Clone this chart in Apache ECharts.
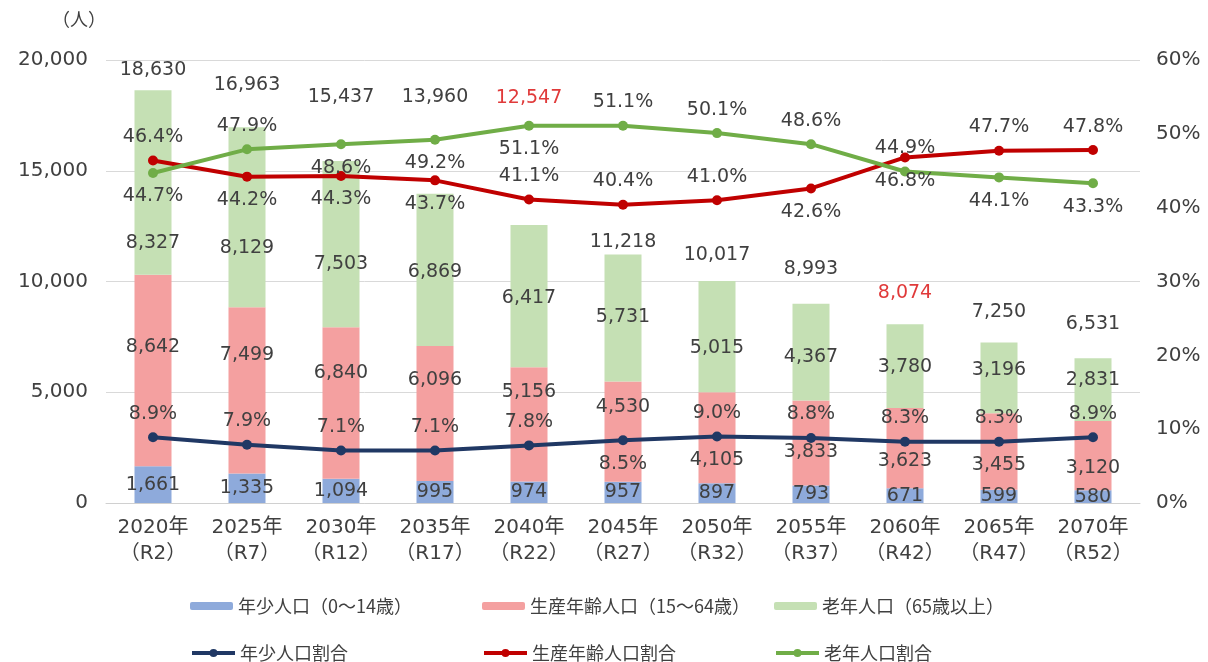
<!DOCTYPE html>
<html>
<head>
<meta charset="utf-8">
<script src="https://cdn.jsdelivr.net/npm/echarts@6/dist/echarts.min.js"></script>
<style>
html,body{margin:0;padding:0;background:#fff;}
#c{width:1208px;height:662px;}
</style>
</head>
<body>
<div id="c"></div>
<script>
// ---- data ----
const categories = ['2020年\n（R2）','2025年\n（R7）','2030年\n（R12）','2035年\n（R17）','2040年\n（R22）','2045年\n（R27）','2050年\n（R32）','2055年\n（R37）','2060年\n（R42）','2065年\n（R47）','2070年\n（R52）'];
const youngPop   = [1661,1335,1094,995,974,957,897,793,671,599,580];
const workingPop = [8642,7499,6840,6096,5156,4530,4105,3833,3623,3455,3120];
const elderlyPop = [8327,8129,7503,6869,6417,5731,5015,4367,3780,3196,2831];
const totalPop   = [18630,16963,15437,13960,12547,11218,10017,8993,8074,7250,6531];
const youngRate   = [8.9,7.9,7.1,7.1,7.8,8.5,9.0,8.8,8.3,8.3,8.9];
const workingRate = [46.4,44.2,44.3,43.7,41.1,40.4,41.0,42.6,46.8,47.7,47.8];
const elderlyRate = [44.7,47.9,48.6,49.2,51.1,51.1,50.1,48.6,44.9,44.1,43.3];
const leftTicks = [0,5000,10000,15000,20000];
const rightTicks = [0,10,20,30,40,50,60];

// ---- label layout (styling, not data) ----
const youngLabelPos   = ['top','top','top','top','top','bottom','top','top','top','top','top'];
const workingLabelPos = ['top','bottom','bottom','bottom','top','top','top','bottom','bottom','top','top'];
const elderlyLabelPos = ['bottom','top','bottom','bottom','bottom','top','top','top','top','bottom','bottom'];
const totalLabelDy    = [-6,-28,-50,-82,-113,2,-12,-20,-17,-16,-20];
const workingLabelDy  = [-23,-35,-30,-33,-32,-25,22,9,13,14,12];
const elderlyLabelDy  = [60,31,20,2,2,-1,11,5,1,-8,-10];
const highlightTotal  = [false,false,false,false,true,false,false,false,true,false,false];

const TXT = '#404040';
const NUMFONT = '"DejaVu Sans","Noto Sans CJK JP",sans-serif';
const JPFONT = '"Noto Sans CJK JP","Noto Sans",sans-serif';
const fmtNum = v => Number(v).toLocaleString('en-US');

const chart = echarts.init(document.getElementById('c'), null, {renderer:'canvas'});

function barSeries(name, data, color, dy) {
  return {
    name, type:'bar', stack:'pop', barWidth:37, yAxisIndex:0,
    itemStyle:{color},
    data: data.map((v,i)=>({value:v, label:{offset:[0, dy ? dy[i] : 0]}})),
    label:{show:true, position:'inside', color:TXT, fontFamily:NUMFONT, fontSize:19,
      formatter:p=>fmtNum(p.value)},
    z:2
  };
}
function lineSeries(name, data, color, pos) {
  return {
    name, type:'line', yAxisIndex:1, symbol:'circle', symbolSize:10,
    lineStyle:{color, width:4}, itemStyle:{color},
    data: data.map((v,i)=>({value:v, label:{position:pos[i]}})),
    label:{show:true, color:TXT, fontFamily:NUMFONT, fontSize:19, distance:9,
      formatter:p=>p.value.toFixed(1)+'%'},
    z:5
  };
}

const legendBase = {
  itemGap:4, padding:5, textStyle:{color:TXT, fontFamily:JPFONT, fontSize:18}
};
const barIcon = {itemWidth:43, itemHeight:8};
const lineIcon = {itemWidth:43, itemHeight:10, lineStyle:{width:4}};

const option = {
  backgroundColor:'#fff',
  animation:false,
  grid:{left:106, right:68, top:60, bottom:159},
  graphic:[{type:'text', left:52, top:10,
    style:{text:'（人）', fill:TXT, font:'18px "Noto Sans CJK JP"'}}],
  legend:[
    Object.assign({data:['年少人口（0～14歳）'], left:185, top:592}, barIcon, legendBase),
    Object.assign({data:['生産年齢人口（15～64歳）'], left:477, top:592}, barIcon, legendBase),
    Object.assign({data:['老年人口（65歳以上）'], left:769, top:592}, barIcon, legendBase),
    Object.assign({data:['年少人口割合'], left:185, top:639}, lineIcon, legendBase),
    Object.assign({data:['生産年齢人口割合'], left:477, top:639}, lineIcon, legendBase),
    Object.assign({data:['老年人口割合'], left:769, top:639}, lineIcon, legendBase)
  ],
  xAxis:{
    type:'category', data:categories,
    axisLine:{show:true, lineStyle:{color:'#d0d0d0'}},
    axisTick:{show:false},
    axisLabel:{color:TXT, fontFamily:NUMFONT, fontSize:20, lineHeight:26, margin:12, interval:0}
  },
  yAxis:[
    {type:'value', min:leftTicks[0], max:leftTicks[leftTicks.length-1], interval:leftTicks[1]-leftTicks[0],
     axisLine:{show:false}, axisTick:{show:false},
     splitLine:{lineStyle:{color:'#d9d9d9'}},
     axisLabel:{color:TXT, fontFamily:NUMFONT, fontSize:20, margin:18, formatter:v=>fmtNum(v)}},
    {type:'value', min:rightTicks[0], max:rightTicks[rightTicks.length-1], interval:rightTicks[1]-rightTicks[0],
     axisLine:{show:false}, axisTick:{show:false}, splitLine:{show:false},
     axisLabel:{color:TXT, fontFamily:NUMFONT, fontSize:20, margin:16, formatter:v=>v+'%'}}
  ],
  series:[
    barSeries('年少人口（0～14歳）', youngPop, '#8eaadb', null),
    barSeries('生産年齢人口（15～64歳）', workingPop, '#f4a0a0', workingLabelDy),
    barSeries('老年人口（65歳以上）', elderlyPop, '#c5e0b4', elderlyLabelDy),
    {
      name:'総人口', type:'bar', barWidth:37, barGap:'-100%', yAxisIndex:0,
      itemStyle:{color:'rgba(0,0,0,0)'}, silent:true,
      data: totalPop.map((v,i)=>({value:v, label:{offset:[0,totalLabelDy[i]], color: highlightTotal[i] ? '#e03a3a' : TXT}})),
      label:{show:true, position:'top', distance:5, fontFamily:NUMFONT, fontSize:19, formatter:p=>fmtNum(p.value)},
      z:1
    },
    lineSeries('年少人口割合', youngRate, '#203864', youngLabelPos),
    lineSeries('生産年齢人口割合', workingRate, '#c00000', workingLabelPos),
    lineSeries('老年人口割合', elderlyRate, '#70ad47', elderlyLabelPos)
  ]
};
chart.setOption(option);
</script>
</body>
</html>
